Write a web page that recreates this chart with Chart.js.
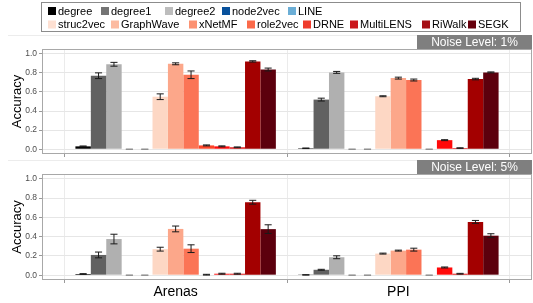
<!DOCTYPE html>
<html><head><meta charset="utf-8">
<script src="https://cdn.jsdelivr.net/npm/chart.js@4/dist/chart.umd.min.js"></script>
<style>
html,body{margin:0;padding:0;background:#fff;}
#wrap{position:relative;width:533px;height:303px;overflow:hidden;}
canvas{position:absolute;left:0;top:0;}
</style></head><body>
<div id="wrap"><canvas id="c1" width="533" height="303"></canvas><canvas id="c2" width="533" height="303"></canvas></div>
<script>
// ---------------- DATA ----------------
const categories = ['Arenas', 'PPI'];
const methods = ['degree','degree1','degree2','node2vec','LINE','struc2vec','GraphWave','xNetMF','role2vec','DRNE','MultiLENS','RiWalk','SEGK'];
const panelTitles = ['Noise Level: 1%', 'Noise Level: 5%'];
const yTickValues = [0,0.1,0.2,0.3,0.4,0.5,0.6,0.7,0.8,0.9,1.0];

// Noise level 1%
const arenas1 = [0.03, 0.77, 0.89, 0, 0, 0.55, 0.895, 0.78, 0.04, 0.03, 0.02, 0.92, 0.835];
const ppi1    = [0.01, 0.52, 0.805, 0, 0, 0.555, 0.745, 0.725, 0, 0.095, 0.012, 0.735, 0.805];
const arenas1Err = [0.004, 0.03, 0.02, 0, 0, 0.03, 0.01, 0.04, 0.005, 0.005, 0.004, 0.007, 0.015];
const ppi1Err    = [0.003, 0.015, 0.01, 0, 0, 0.005, 0.01, 0.01, 0, 0.005, 0.003, 0.008, 0.005];

// Noise level 5%
const arenas5 = [0.012, 0.21, 0.375, 0, 0, 0.27, 0.48, 0.275, 0.005, 0.015, 0.015, 0.757, 0.478];
const ppi5    = [0.003, 0.056, 0.186, 0, 0, 0.224, 0.255, 0.265, 0, 0.08, 0.015, 0.553, 0.41];
const arenas5Err = [0.004, 0.03, 0.05, 0, 0, 0.02, 0.03, 0.04, 0.004, 0.005, 0.005, 0.02, 0.045];
const ppi5Err    = [0.002, 0.005, 0.015, 0, 0, 0.005, 0.005, 0.015, 0, 0.005, 0.004, 0.015, 0.02];

// ---------------- STYLE ----------------
const barColors = ['#000000','#616161','#b0b0b0','#08519c','#6baed6','#fdd7c4','#fca78a','#fb7456','#fc4528','#ff0a0a','#dc0808','#a30000','#5c000d'];
const legendColors = ['#000000','#747474','#bdbdbd','#08519c','#6baed6','#fee0d2','#fcbba1','#fc9272','#fb6a4a','#ef3b2c','#cb181d','#a50f15','#67000d'];
const legendRows = [[0,1,2,3,4],[5,6,7,8,9,10,11,12]];
const legendKeyX = [[48,101,165,222,288],[48,111,189,247,303,350,422,468]];
const FONT = '"Liberation Sans", Arial, Helvetica, sans-serif';
Chart.defaults.font.family = FONT;

const errorBars = {
  id: 'errorBars',
  afterDatasetsDraw(chart) {
    const ctx = chart.ctx, ys = chart.scales.y;
    ctx.save();
    ctx.lineWidth = 1;
    chart.data.datasets.forEach((ds, i) => {
      const meta = chart.getDatasetMeta(i);
      meta.data.forEach((bar, j) => {
        const v = ds.data[j].y, e = ds.errors[j];
        const yT = ys.getPixelForValue(v + e), yB = ys.getPixelForValue(v - e);
        const x = bar.x, hw = bar.width * 0.23;
        ctx.strokeStyle = e > 0 ? '#1a1a1a' : '#8a8a8a';
        ctx.beginPath();
        ctx.moveTo(x - hw, yT); ctx.lineTo(x + hw, yT);
        ctx.moveTo(x, yT); ctx.lineTo(x, yB);
        ctx.moveTo(x - hw, yB); ctx.lineTo(x + hw, yB);
        ctx.stroke();
      });
    });
    ctx.restore();
  }
};

const panelDecor = {
  id: 'panelDecor',
  afterDraw(chart, args, opts) {
    const ctx = chart.ctx, a = chart.chartArea;
    ctx.save();
    // panel border
    ctx.strokeStyle = '#a8a8a8';
    ctx.lineWidth = 1;
    ctx.strokeRect(a.left + 0.5, a.top + 0.5, a.right - a.left - 1, a.bottom - a.top - 1);
    // strip
    const sx = 417, sh = 14;
    ctx.strokeStyle = '#ececec';
    ctx.beginPath(); ctx.moveTo(8, a.top - sh + 0.5); ctx.lineTo(sx, a.top - sh + 0.5); ctx.stroke();
    ctx.fillStyle = '#7f7f7f';
    ctx.fillRect(sx, a.top - sh, a.right - sx, sh);
    ctx.fillStyle = '#ffffff';
    ctx.font = '12px ' + FONT;
    ctx.textAlign = 'center'; ctx.textBaseline = 'middle';
    ctx.fillText(opts.title, (sx + a.right) / 2, a.top - sh / 2 + 0.5);
    // legend
    if (opts.legend) {
      ctx.strokeStyle = '#8c8c8c';
      ctx.strokeRect(41.5, 2.5, 479, 29);
      ctx.font = '11px ' + FONT;
      ctx.textAlign = 'left'; ctx.textBaseline = 'middle';
      const rowY = [11, 24.5];
      legendRows.forEach((row, r) => {
        row.forEach((mi, k) => {
          const kx = legendKeyX[r][k];
          ctx.fillStyle = legendColors[mi];
          ctx.fillRect(kx, rowY[r] - 4, 8, 8);
          ctx.fillStyle = '#000';
          ctx.fillText(methods[mi], kx + 10, rowY[r] + 0.5);
        });
      });
    }
    ctx.restore();
  }
};

function makeChart(id, vals, ppiVals, errs, ppiErrs, title, top, bottom, showLabels, legend) {
  const xH = showLabels ? 23 : 4;
  const datasets = methods.map((m, i) => ({
    label: m,
    data: [{x: 1, y: vals[i]}, {x: 2, y: ppiVals[i]}],
    errors: [errs[i], ppiErrs[i]],
    backgroundColor: barColors[i],
    borderWidth: 0,
    categoryPercentage: 0.9,
    barPercentage: 1.0
  }));
  return new Chart(document.getElementById(id), {
    type: 'bar',
    data: { datasets },
    plugins: [errorBars, panelDecor],
    options: {
      responsive: false,
      animation: false,
      layout: { padding: { left: 0, right: 1, top: top, bottom: 303 - bottom - xH } },
      plugins: { legend: { display: false }, tooltip: { enabled: false }, panelDecor: { title, legend } },
      scales: {
        x: {
          type: 'linear', min: 0.4, max: 2.6, offset: false,
          afterBuildTicks: s => { s.ticks = [{value: 1}, {value: 2}]; },
          afterFit: s => { s.height = xH; },
          ticks: { display: showLabels, autoSkip: false, maxRotation: 0, padding: 1,
                   color: '#000', font: { size: 14 },
                   callback: v => categories[Math.round(v) - 1] },
          grid: { color: '#ebebeb', tickColor: '#9a9a9a', tickLength: 3 },
          border: { display: false }
        },
        y: {
          min: -0.05, max: 1.05,
          afterBuildTicks: s => { s.ticks = yTickValues.map(v => ({value: v})); },
          afterFit: s => { s.width = 42; },
          ticks: { padding: 2, color: '#4d4d4d', font: { size: 8.5 },
                   callback: v => (Math.round(v * 10) % 2 === 0 ? v.toFixed(1) : '') },
          grid: {
            color: c => (c.tick && Math.round(c.tick.value * 10) % 2 === 0) ? '#e6e6e6' : '#f4f4f4',
            tickColor: c => (c.tick && Math.round(c.tick.value * 10) % 2 === 0) ? '#9a9a9a' : 'rgba(0,0,0,0)',
            tickLength: 3
          },
          border: { display: false },
          title: { display: true, text: 'Accuracy', color: '#000', font: { size: 13 }, padding: { top: 10, bottom: 0 } }
        }
      }
    }
  });
}

makeChart('c1', arenas1, ppi1, arenas1Err, ppi1Err, panelTitles[0], 49, 154, false, true);
makeChart('c2', arenas5, ppi5, arenas5Err, ppi5Err, panelTitles[1], 174, 280, true, false);
</script>
</body></html>
